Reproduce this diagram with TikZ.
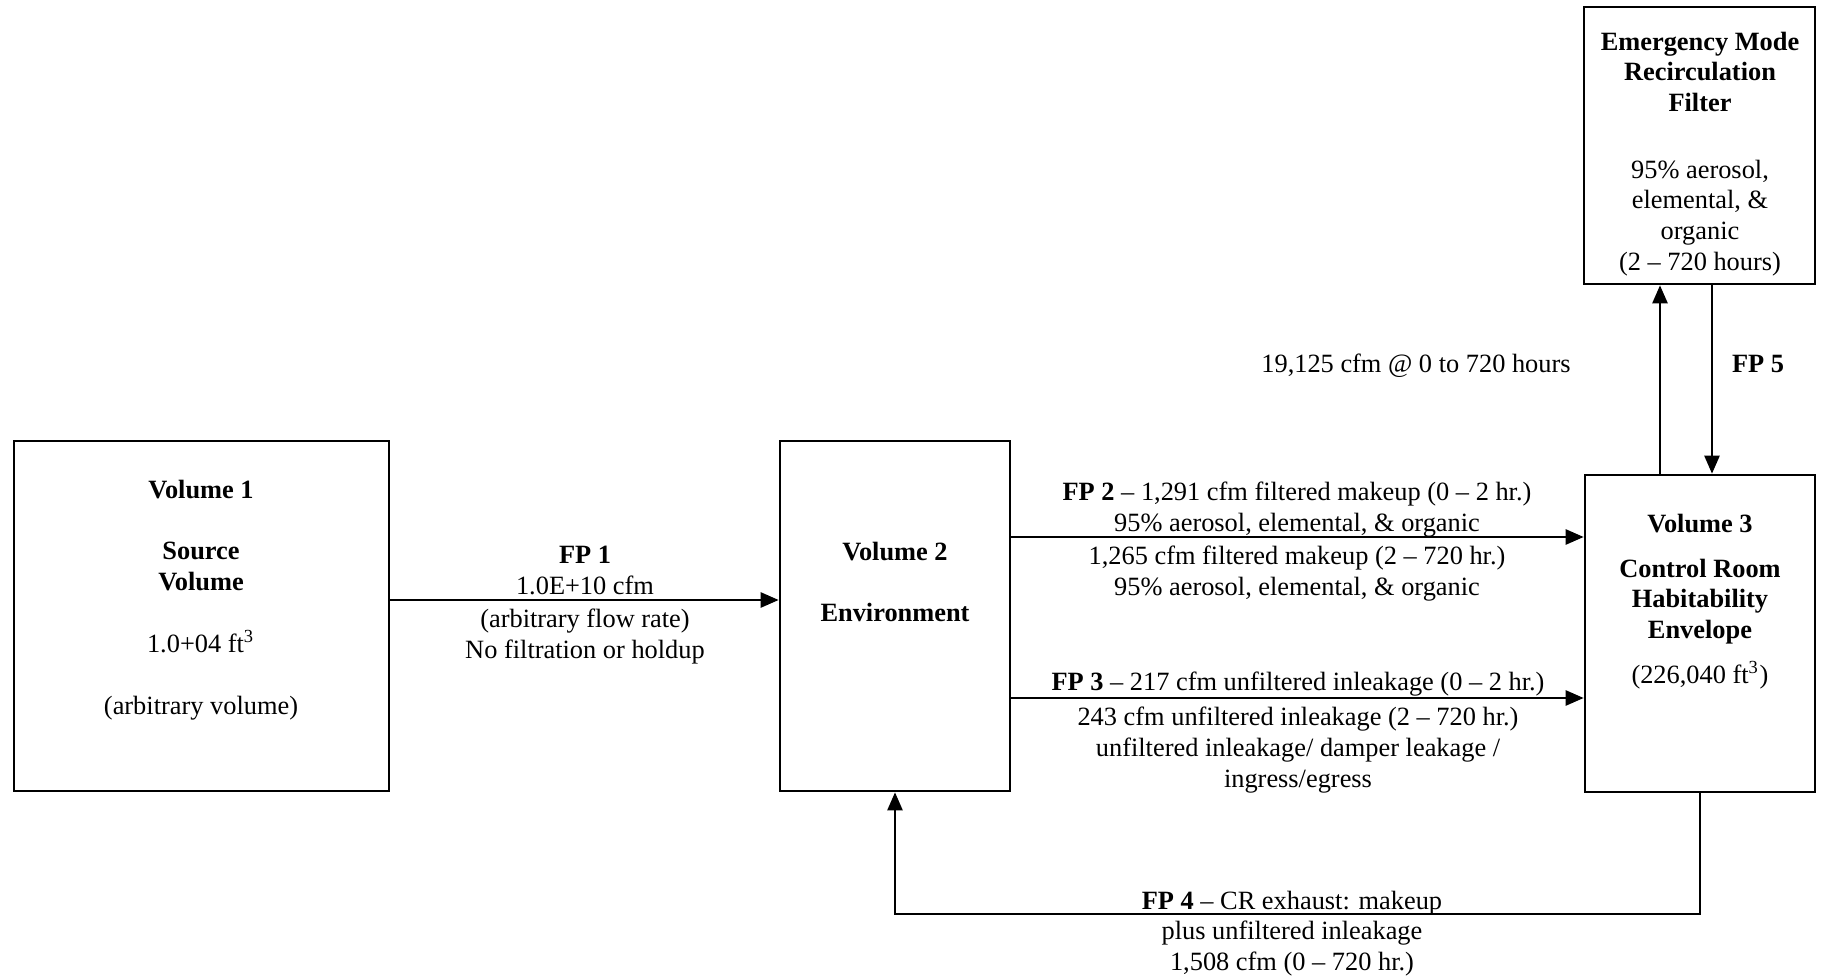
\documentclass[tikz,border=0pt]{standalone}
\usepackage{fontspec}
\setmainfont{Liberation Serif}
\usetikzlibrary{arrows.meta}

\begin{document}
\begin{tikzpicture}[x=0.01cm, y=-0.01cm,
  font=\fontsize{7.5}{8.8}\selectfont,
  vol/.style={draw, line width=0.7pt, inner sep=0pt},
  flow/.style={line width=0.7pt, -{Triangle[length=1.8mm, width=1.5mm]}},
  txt/.style={align=center, inner sep=0pt, anchor=north}]
\useasboundingbox (0,0) rectangle (1826,976);
% volumes
\node[vol, minimum width=3.75cm, minimum height=3.5cm] (v1) at (201.5,616) {};
\node[vol, minimum width=2.3cm, minimum height=3.5cm] (v2) at (895,616) {};
\node[vol, minimum width=2.3cm, minimum height=3.17cm] (v3) at (1700,633.5) {};
\node[vol, minimum width=2.31cm, minimum height=2.77cm] (filt) at (1699.5,145.5) {};
% box texts
\node[txt] (v1t) at (201,479) {\textbf{Volume 1}\\[8.8pt] \textbf{Source}\\ \textbf{Volume}\\[8.8pt] 1.0+04 ft\textsuperscript{3}\\[8.8pt] (arbitrary volume)};
\node[txt] (v2t) at (895,541) {\textbf{Volume 2}\\[8.8pt] \textbf{Environment}};
\node[txt] (v3t) at (1700,513) {\textbf{Volume 3}\\[4pt] \textbf{Control Room}\\ \textbf{Habitability}\\ \textbf{Envelope}\\[4pt] (226,040 ft\textsuperscript{3})};
\node[txt] (filtt) at (1700,31) {\textbf{Emergency Mode}\\ \textbf{Recirculation}\\ \textbf{Filter}\\[10pt] 95\% aerosol,\\ elemental, \&\\ organic\\ (2 -- 720 hours)};
% flow rows
\coordinate (r1) at (0,600);
\coordinate (r2) at (0,537);
\coordinate (r3) at (0,698);
\coordinate (r4) at (0,914);
\coordinate (c1) at (1660,0);
\coordinate (c2) at (1712,0);
% flow paths
\draw[flow] (v1.east |- r1) -- (v2.west |- r1);
\draw[flow] (v2.east |- r2) -- (v3.west |- r2);
\draw[flow] (v2.east |- r3) -- (v3.west |- r3);
\draw[flow] (v3.south) -- (v3.south |- r4) -- (v2.south |- r4) -- (v2.south);
\draw[flow] (v3.north -| c1) -- (filt.south -| c1);
\draw[flow] (filt.south -| c2) -- (v3.north -| c2);
% flow labels
\node[txt] (fp1a) at (585,545) {\textbf{FP 1}\\ 1.0E+10 cfm};
\node[txt] (fp1b) at (585,608) {(arbitrary flow rate)\\ No filtration or holdup};
\node[txt] (fp2a) at (1297,481) {\textbf{FP 2} -- 1,291 cfm filtered makeup (0 -- 2 hr.)\\ 95\% aerosol, elemental, \& organic};
\node[txt] (fp2b) at (1297,545) {1,265 cfm filtered makeup (2 -- 720 hr.)\\ 95\% aerosol, elemental, \& organic};
\node[txt] (fp3a) at (1298,671) {\textbf{FP 3} -- 217 cfm unfiltered inleakage (0 -- 2 hr.)};
\node[txt] (fp3b) at (1298,706) {243 cfm unfiltered inleakage (2 -- 720 hr.)\\ unfiltered inleakage/ damper leakage /\\ ingress/egress};
\node[txt] (fp4) at (1292,890) {\textbf{FP 4} -- CR exhaust: makeup\\ plus unfiltered inleakage\\ 1,508 cfm (0 -- 720 hr.)};
\node[anchor=base] (rate) at (1416,373) {19,125 cfm @ 0 to 720 hours};
\node[anchor=base] (fp5) at (1758,373) {\textbf{FP 5}};
\end{tikzpicture}
\end{document}
